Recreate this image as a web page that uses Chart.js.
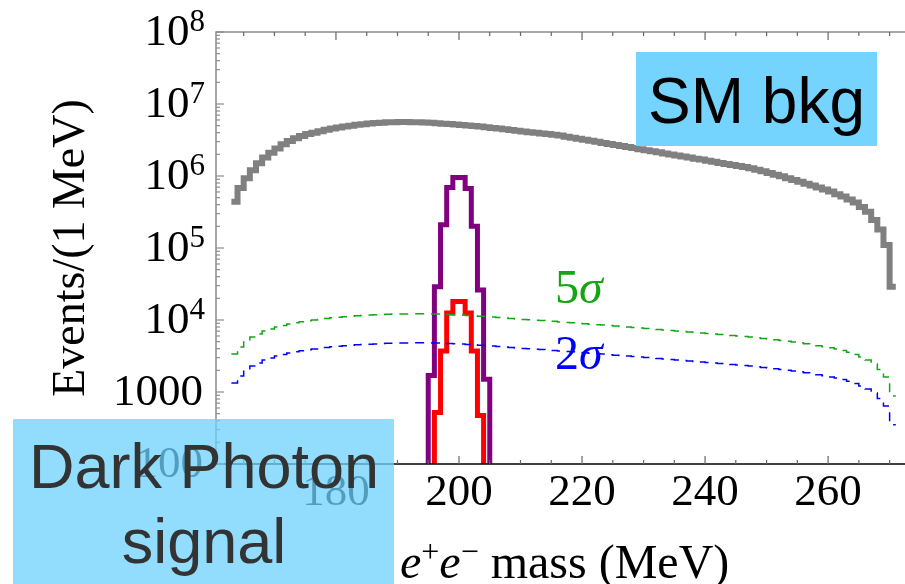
<!DOCTYPE html>
<html>
<head>
<meta charset="utf-8">
<title>Dark photon signal over SM background</title>
<script src="https://cdn.jsdelivr.net/npm/chart.js@4.4.1/dist/chart.umd.min.js"></script>
<style>
  html, body { margin: 0; padding: 0; background: #fff; }
  #wrap { width: 905px; height: 584px; }
</style>
</head>
<body>
<div id="wrap"><canvas id="massChart" width="905" height="584"></canvas></div>
<script>
// bin edges in MeV (1 MeV bins)
const bkgEdges = [163, 164, 165, 166, 167, 168, 169, 170, 171, 172, 173, 174, 175, 176, 177, 178, 179, 180,
  181, 182, 183, 184, 185, 186, 187, 188, 189, 190, 191, 192, 193, 194, 195, 196, 197, 198, 199, 200,
  201, 202, 203, 204, 205, 206, 207, 208, 209, 210, 211, 212, 213, 214, 215, 216, 217, 218, 219, 220,
  221, 222, 223, 224, 225, 226, 227, 228, 229, 230, 231, 232, 233, 234, 235, 236, 237, 238, 239, 240,
  241, 242, 243, 244, 245, 246, 247, 248, 249, 250, 251, 252, 253, 254, 255, 256, 257, 258, 259, 260,
  261, 262, 263, 264, 265, 266, 267, 268, 269, 270, 271];

// SM background, events per bin
const bkgCounts = [
  4.4e5, 6.8e5, 9.3e5, 1.2e6, 1.5e6, 1.8e6, 2.1e6, 2.4e6, 2.76e6, 3.06e6,
  3.34e6, 3.6e6, 3.83e6, 4.0e6, 4.2e6, 4.4e6, 4.55e6, 4.72e6, 4.87e6, 5.0e6,
  5.13e6, 5.25e6, 5.35e6, 5.43e6, 5.5e6, 5.56e6, 5.6e6, 5.62e6, 5.62e6, 5.59e6,
  5.56e6, 5.52e6, 5.47e6, 5.4e6, 5.33e6, 5.27e6, 5.2e6, 5.12e6, 5.04e6, 4.95e6,
  4.86e6, 4.76e6, 4.64e6, 4.55e6, 4.45e6, 4.35e6, 4.25e6, 4.15e6, 4.06e6, 3.98e6,
  3.9e6, 3.82e6, 3.75e6, 3.65e6, 3.52e6, 3.41e6, 3.3e6, 3.19e6, 3.08e6, 2.98e6,
  2.88e6, 2.79e6, 2.7e6, 2.61e6, 2.52e6, 2.44e6, 2.36e6, 2.28e6, 2.2e6, 2.13e6,
  2.06e6, 1.99e6, 1.93e6, 1.87e6, 1.8e6, 1.74e6, 1.69e6, 1.63e6, 1.58e6, 1.52e6,
  1.47e6, 1.42e6, 1.38e6, 1.33e6, 1.28e6, 1.22e6, 1.16e6, 1.1e6, 1.04e6, 9.9e5,
  9.3e5, 8.8e5, 8.3e5, 7.8e5, 7.4e5, 6.9e5, 6.5e5, 6.1e5, 5.6e5, 5.2e5,
  4.7e5, 4.3e5, 3.7e5, 3.2e5, 2.45e5, 1.8e5, 1.1e5, 2.9e4];

// 5 sigma and 2 sigma thresholds, per bin
const fiveSigma = [
  3370, 4220, 5110, 5800, 6390, 7030, 7500, 7990, 8390, 8800,
  9140, 9440, 9750, 10000, 10260, 10490, 10730, 10940, 11120, 11300,
  11430, 11580, 11690, 11800, 11920, 11990, 12070, 12110, 12150, 12190,
  12190, 12190, 12150, 12110, 12030, 11950, 11840, 11730, 11580, 11430,
  11300, 11150, 11010, 10830, 10660, 10490, 10330, 10190, 10060, 9940,
  9810, 9690, 9570, 9410, 9260, 9140, 8990, 8860, 8740, 8600,
  8490, 8360, 8230, 8120, 7990, 7870, 7740, 7620, 7500, 7380,
  7260, 7150, 7030, 6920, 6810, 6700, 6590, 6490, 6390, 6290,
  6190, 6090, 5990, 5900, 5800, 5680, 5550, 5430, 5310, 5190,
  5080, 4950, 4820, 4670, 4520, 4380, 4250, 4110, 3960, 3770,
  3560, 3320, 3060, 2780, 2450, 2050, 1620, 880];

const twoSigma = [
  1330, 1670, 2020, 2290, 2530, 2780, 2960, 3160, 3320, 3480,
  3610, 3730, 3850, 3950, 4060, 4150, 4240, 4320, 4400, 4470,
  4520, 4580, 4620, 4660, 4710, 4740, 4770, 4790, 4800, 4820,
  4820, 4820, 4800, 4790, 4750, 4720, 4680, 4640, 4580, 4520,
  4470, 4410, 4350, 4280, 4210, 4150, 4080, 4030, 3980, 3930,
  3880, 3830, 3780, 3720, 3660, 3610, 3550, 3500, 3450, 3400,
  3360, 3300, 3250, 3210, 3160, 3110, 3060, 3010, 2960, 2920,
  2870, 2830, 2780, 2740, 2690, 2650, 2600, 2570, 2530, 2490,
  2450, 2410, 2370, 2330, 2290, 2250, 2190, 2150, 2100, 2050,
  2010, 1960, 1910, 1850, 1790, 1730, 1680, 1620, 1570, 1490,
  1410, 1310, 1210, 1100, 970, 810, 640, 350];

// dark photon peaks at 200 MeV
const bigSignalEdges = [195, 196, 197, 198, 199, 200, 201, 202, 203, 204, 205];
const bigSignal = [1700, 29000, 210000, 690000, 950000, 950000, 670000, 200000, 26000, 1500];
const smallSignalEdges = [196, 197, 198, 199, 200, 201, 202, 203, 204];
const smallSignal = [520, 3700, 12500, 18000, 18000, 12500, 3700, 470];

const xMajorTicks = [180, 200, 220, 240, 260];
const xMinorTicks = [165, 170, 175, 185, 190, 195, 205, 210, 215, 225, 230, 235, 245, 250, 255, 265, 270];
const yTickValues = [1e2, 1e3, 1e4, 1e5, 1e6, 1e7, 1e8];
const yTickBase = ['100', '1000', '10', '10', '10', '10', '10'];
const yTickExp = ['', '', '4', '5', '6', '7', '8'];

const Y_MIN = 100, Y_MAX = 1e8;
const serif = '"Liberation Serif", "Times New Roman", serif';
const sans = '"Liberation Sans", Arial, sans-serif';

function stepPoints(edges, values, floor) {
  const pts = [];
  if (floor !== undefined) pts.push({x: edges[0], y: floor});
  values.forEach((v, i) => pts.push({x: edges[i], y: v}));
  pts.push({x: edges[values.length], y: floor !== undefined ? floor : values[values.length - 1]});
  return pts;
}

const decorations = {
  id: 'decorations',
  afterDraw(chart) {
    const {ctx, chartArea: a, scales: {x, y}} = chart;
    ctx.save();

    // frame lines
    ctx.lineWidth = 1.5;
    ctx.strokeStyle = '#8c8c8c';
    ctx.beginPath();
    ctx.moveTo(a.left, a.bottom); ctx.lineTo(a.left, a.top); ctx.lineTo(a.right, a.top);
    ctx.stroke();
    ctx.strokeStyle = '#000';
    ctx.beginPath();
    ctx.moveTo(a.left, a.bottom); ctx.lineTo(a.right, a.bottom);
    ctx.stroke();

    // x ticks, top and bottom, pointing inward
    ctx.lineWidth = 1.2;
    ctx.strokeStyle = '#666';
    const xTick = (v, len) => {
      const px = x.getPixelForValue(v);
      ctx.beginPath();
      ctx.moveTo(px, a.bottom); ctx.lineTo(px, a.bottom - len);
      ctx.moveTo(px, a.top); ctx.lineTo(px, a.top + len);
      ctx.stroke();
    };
    xMajorTicks.forEach(v => xTick(v, 8));
    xMinorTicks.forEach(v => xTick(v, 4));

    // y ticks on the log axis
    ctx.strokeStyle = '#8c8c8c';
    const yTick = (v, len) => {
      const py = y.getPixelForValue(v);
      ctx.beginPath();
      ctx.moveTo(a.left, py); ctx.lineTo(a.left + len, py);
      ctx.stroke();
    };
    yTickValues.forEach((v, i) => {
      yTick(v, 8);
      if (i < yTickValues.length - 1) {
        for (let m = 2; m <= 9; m++) yTick(v * m, 4);
      }
    });

    // y tick labels with exponents
    ctx.fillStyle = '#000';
    ctx.textAlign = 'right';
    yTickValues.forEach((v, i) => {
      const py = y.getPixelForValue(v);
      let right = 205;
      if (yTickExp[i]) {
        ctx.font = '31px ' + serif;
        ctx.textBaseline = 'alphabetic';
        ctx.fillText(yTickExp[i], right, py - 1);
        right -= ctx.measureText(yTickExp[i]).width;
      } else {
        right = 203;
      }
      ctx.font = '45px ' + serif;
      ctx.textBaseline = 'middle';
      ctx.fillText(yTickBase[i], right, py + 1);
    });

    // x axis title
    const parts = [
      {t: 'e', f: 'italic 48px ' + serif, dy: 0},
      {t: '+', f: '32px ' + serif, dy: -16},
      {t: 'e', f: 'italic 48px ' + serif, dy: 0},
      {t: '\u2212', f: '32px ' + serif, dy: -16},
      {t: ' mass (MeV)', f: '48px ' + serif, dy: 0}
    ];
    ctx.textAlign = 'left';
    ctx.textBaseline = 'alphabetic';
    let tx = 400;
    parts.forEach(p => {
      ctx.font = p.f;
      ctx.fillText(p.t, tx, 578 + p.dy);
      tx += ctx.measureText(p.t).width;
    });

    // sigma labels
    const sigmaLabel = (num, color, left, base) => {
      ctx.fillStyle = color;
      ctx.font = '48px ' + serif;
      ctx.fillText(num, left, base);
      const w = ctx.measureText(num).width;
      ctx.font = 'italic 48px ' + serif;
      ctx.fillText('\u03c3', left + w, base);
    };
    sigmaLabel('5', '#14a514', 555, 303);
    sigmaLabel('2', '#0000ff', 555, 369);

    // annotation boxes
    ctx.fillStyle = '#75d4fd';
    ctx.fillRect(636, 52, 241, 94);
    ctx.fillStyle = '#000';
    ctx.font = '64px ' + sans;
    ctx.textAlign = 'center';
    ctx.fillText('SM bkg', 756.5, 123);

    ctx.fillStyle = 'rgba(110, 208, 252, 0.75)';
    ctx.fillRect(13, 419, 381, 165);
    ctx.fillStyle = '#333';
    ctx.font = '63px ' + sans;
    ctx.fillText('Dark Photon', 204, 488);
    ctx.fillText('signal', 204, 563);

    ctx.restore();
  }
};

const myChart = new Chart(document.getElementById('massChart'), {
  type: 'line',
  data: {
    datasets: [{
      label: '2 sigma',
      data: stepPoints(bkgEdges, twoSigma),
      borderColor: '#0000ff',
      borderWidth: 1.5,
      borderDash: [9, 7]
    }, {
      label: '5 sigma',
      data: stepPoints(bkgEdges, fiveSigma),
      borderColor: '#14a514',
      borderWidth: 1.5,
      borderDash: [9, 7]
    }, {
      label: 'signal (small)',
      data: stepPoints(smallSignalEdges, smallSignal, Y_MIN),
      borderColor: '#ff0000',
      borderWidth: 5
    }, {
      label: 'signal (large)',
      data: stepPoints(bigSignalEdges, bigSignal, Y_MIN),
      borderColor: '#800080',
      borderWidth: 5
    }, {
      label: 'SM bkg',
      data: stepPoints(bkgEdges, bkgCounts),
      borderColor: '#808080',
      borderWidth: 6
    }]
  },
  options: {
    responsive: false,
    devicePixelRatio: 1,
    animation: false,
    layout: { padding: { top: 32, right: 0, left: 0, bottom: 0 } },
    elements: {
      line: { stepped: 'before', fill: false, tension: 0 },
      point: { radius: 0, hoverRadius: 0 }
    },
    plugins: { legend: { display: false }, tooltip: { enabled: false } },
    scales: {
      x: {
        type: 'linear',
        min: 160.5,
        max: 272.5,
        afterFit: s => { s.height = 120; },
        afterBuildTicks: s => { s.ticks = xMajorTicks.map(v => ({value: v})); },
        grid: { display: false, drawTicks: false },
        border: { display: false },
        ticks: {
          autoSkip: false,
          maxRotation: 0,
          padding: 2,
          color: '#000',
          font: { family: serif, size: 45 }
        }
      },
      y: {
        type: 'logarithmic',
        min: Y_MIN,
        max: Y_MAX,
        afterFit: s => { s.width = 216; },
        grid: { display: false, drawTicks: false },
        border: { display: false },
        ticks: { display: false },
        title: {
          display: true,
          text: 'Events/(1 MeV)',
          color: '#000',
          font: { family: serif, size: 46 },
          padding: { top: 44, bottom: 0 }
        }
      }
    }
  },
  plugins: [decorations]
});
</script>
</body>
</html>
